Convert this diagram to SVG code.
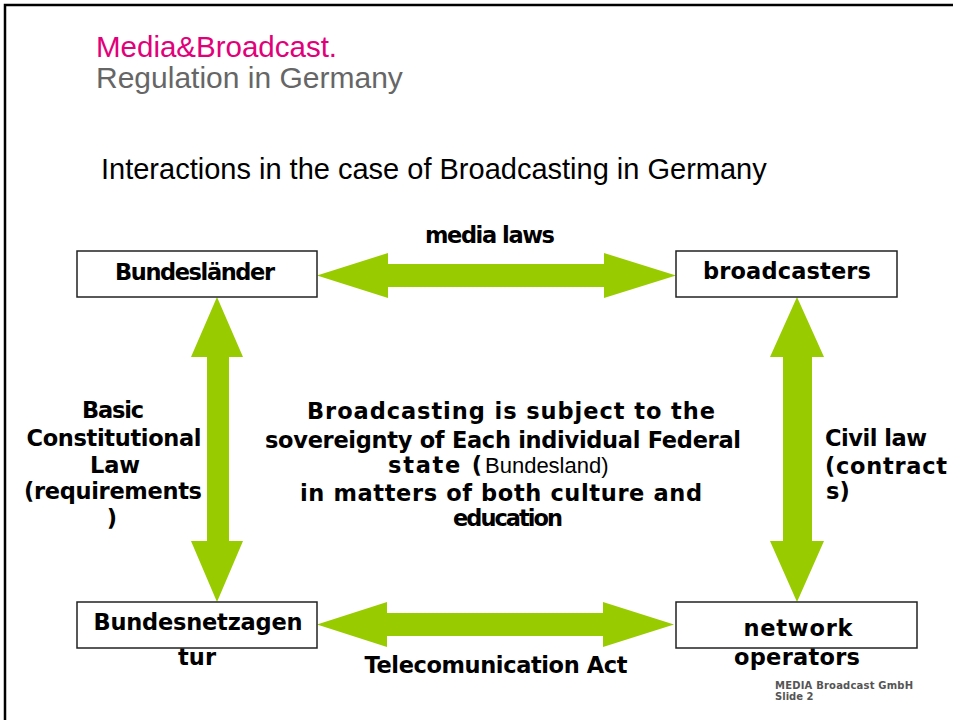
<svg xmlns="http://www.w3.org/2000/svg" width="953" height="720" viewBox="0 0 953 720">
<style>
.frame{fill:#fff;stroke:#000;stroke-width:2.5}
.box{fill:#fff;stroke:#222;stroke-width:1.5}
.arrow{fill:#99cc00}
.deco{font-family:"DejaVu Sans",sans-serif;font-weight:bold;font-size:22.5px;fill:#000}
.c{text-anchor:middle}
.arial{font-family:"Liberation Sans",Arial,sans-serif}
.foot{font-family:"DejaVu Sans",sans-serif;font-weight:bold;font-size:10px;fill:#555}
</style>
<rect class="frame" x="5" y="5" width="980" height="760"/>
<text class="arial" x="96" y="57" font-size="29.5" fill="#e2007a">Media&amp;Broadcast.</text>
<text class="arial" x="96" y="88" font-size="30" fill="#666">Regulation in Germany</text>
<text class="arial" x="101" y="179" font-size="29" fill="#000">Interactions in the case of Broadcasting in Germany</text>

<g id="connectors">
<polygon class="arrow" points="317,275.5 388,253 388,264 604,264 604,253 676,275.5 604,298 604,287 388,287 388,298"/>
<polygon class="arrow" points="317,624.5 387,602 387,613 603,613 603,602 674,624.5 603,647 603,636 387,636 387,647"/>
<polygon class="arrow" points="217,297 243,357 229,357 229,541 243,541 217,602 191,541 207,541 207,357 191,357"/>
<polygon class="arrow" points="797,297 824,357 812,357 812,541 824,541 797,602 770,541 783,541 783,357 770,357"/>
<text class="deco c" x="490" y="243" textLength="130">media laws</text>
<text class="deco c" x="496" y="673" textLength="263">Telecomunication Act</text>
<g id="label-left">
<text class="deco c" x="113" y="418" textLength="62">Basic</text>
<text class="deco c" x="114" y="446" textLength="175">Constitutional</text>
<text class="deco c" x="115" y="473" textLength="50">Law</text>
<text class="deco c" x="113" y="499" textLength="178">(requirements</text>
<text class="deco c" x="112" y="526">)</text>
</g>
<g id="label-right">
<text class="deco" x="825" y="446" textLength="102">Civil law</text>
<text class="deco" x="825" y="474" textLength="122">(contract</text>
<text class="deco" x="826" y="499">s)</text>
</g>
</g>

<g id="center-note">
<text class="deco c" x="511" y="419" textLength="408">Broadcasting is subject to the</text>
<text class="deco c" x="503" y="448" textLength="476">sovereignty of Each individual Federal</text>
<text class="deco" x="388" y="473" textLength="94">state (</text>
<text class="arial" x="485" y="473" font-size="22" fill="#000">Bundesland)</text>
<text class="deco c" x="501" y="501" textLength="402">in matters of both culture and</text>
<text class="deco c" x="508" y="526" textLength="110">education</text>
</g>

<g id="node-bundeslaender">
<rect class="box" x="77" y="251" width="240" height="46"/>
<text class="deco c" x="195" y="280" textLength="160">Bundesländer</text>
</g>
<g id="node-broadcasters">
<rect class="box" x="676" y="251" width="221" height="46"/>
<text class="deco c" x="787" y="279" textLength="168">broadcasters</text>
</g>
<g id="node-bundesnetzagentur">
<rect class="box" x="77" y="602" width="240" height="46"/>
<text class="deco c" x="198" y="630" textLength="209">Bundesnetzagen</text>
<text class="deco c" x="197" y="665" textLength="38">tur</text>
</g>
<g id="node-network">
<rect class="box" x="676" y="602" width="241" height="46"/>
<text class="deco c" x="798" y="636" textLength="109">network</text>
<text class="deco c" x="797" y="665" textLength="126">operators</text>
</g>

<g id="footer">
<text class="foot" x="775" y="689" textLength="138">MEDIA Broadcast GmbH</text>
<text class="foot" x="775" y="700">Slide 2</text>
</g>
</svg>
